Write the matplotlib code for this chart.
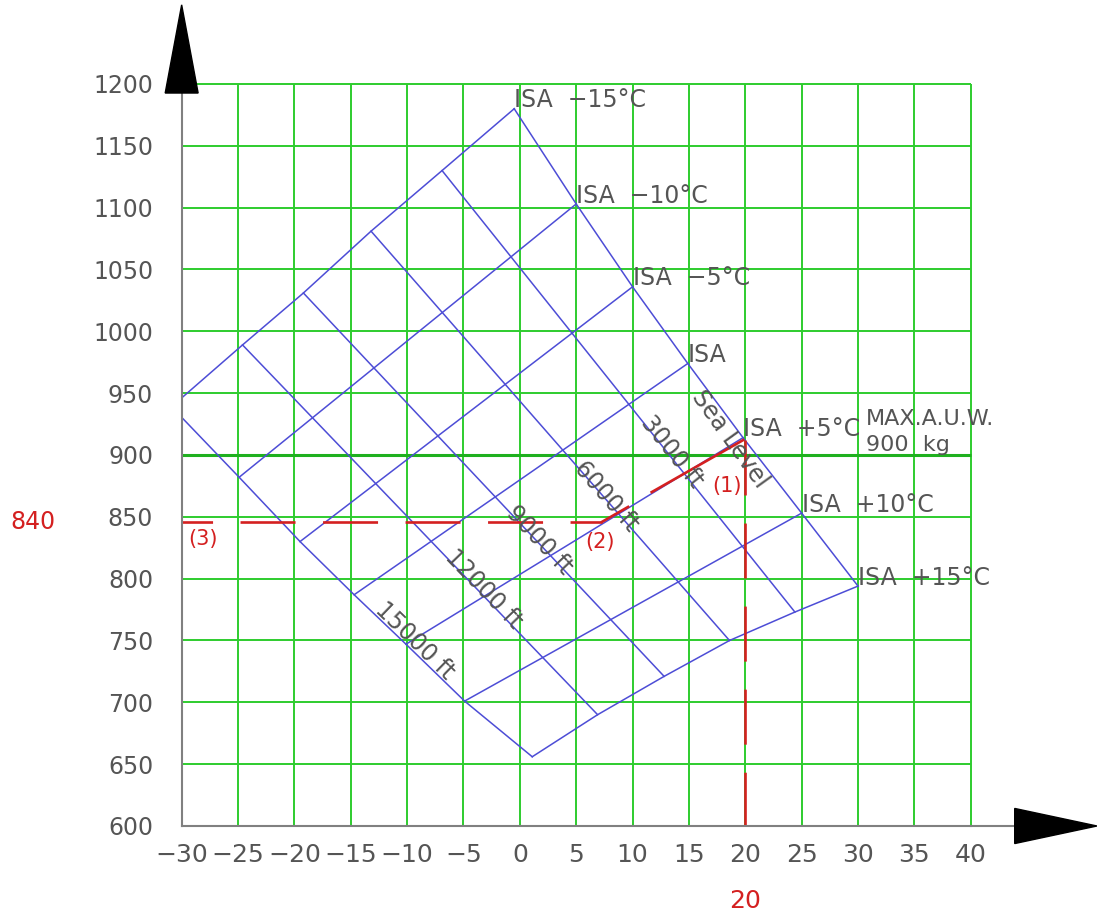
import matplotlib
matplotlib.use("Agg")
import matplotlib.pyplot as plt
import numpy as np
from matplotlib.patches import Polygon

plt.rcParams['font.family'] = ['DejaVu Sans']
plt.rcParams['lines.scale_dashes'] = False

# ---------------- data ----------------
x_ticks = [-30, -25, -20, -15, -10, -5, 0, 5, 10, 15, 20, 25, 30, 35, 40]
x_tick_labels = ['−30', '−25', '−20', '−15', '−10', '−5', '0', '5', '10',
                 '15', '20', '25', '30', '35', '40']
y_ticks = [600, 650, 700, 750, 800, 850, 900, 950, 1000, 1050, 1100, 1150, 1200]
y_tick_labels = [str(v) for v in y_ticks]

max_auw = 900

# ISA temperature lines: node on Sea Level edge and node on 15000 ft edge
isa_labels = ['ISA  −15°C', 'ISA  −10°C', 'ISA  −5°C', 'ISA',
              'ISA  +5°C', 'ISA  +10°C', 'ISA  +15°C']
sea_level_x = [-0.5, 5.0, 10.0, 14.9, 19.8, 25.0, 30.0]
sea_level_y = [1180, 1103, 1036, 974, 914, 853, 794]
ft15000_x = [-30.9, -24.9, -19.5, -14.7, -10.1, -4.9, 1.1]
ft15000_y = [939, 882, 830, 787, 747, 701, 656]

# altitude lines: node on ISA-15 edge and node on ISA+15 edge
alt_labels = ['Sea Level', '3000 ft', '6000 ft', '9000 ft', '12000 ft', '15000 ft']
isa_m15_x = [-0.5, -6.9, -13.2, -19.2, -24.6, -30.9]
isa_m15_y = [1180, 1130, 1081, 1031, 989, 939]
isa_p15_x = [30.0, 24.4, 18.6, 12.8, 6.9, 1.1]
isa_p15_y = [794, 773, 750, 721, 690, 656]
alt_label_x = [18.65, 13.46, 7.69, 1.70, -3.22, -9.30]
alt_label_y = [912.5, 902.4, 866.9, 830.9, 791.3, 749.6]

# worked example (red)
oat = 20
oat_top = 912
step1_x = [19.8, 11.7]
step1_y = [912, 870]
step2_x = [9.6, 7.3]
step2_y = [858, 846]
result_y = 846
result_label = '840'

# ---------------- style ----------------
GREEN = '#2ecc2e'
BLUE = '#4d4dd6'
RED = '#d42020'
GREY = '#555555'
AXC = '#808080'

fig = plt.figure(figsize=(10.97, 9.19), dpi=100)
ax = fig.add_axes([0.1656, 0.1012, 0.7193, 0.8074])
ax.set_xlim(-30, 40)
ax.set_ylim(600, 1200)

# grid
ax.vlines(x_ticks[1:], 600, 1200, colors=GREEN, lw=1.4, clip_on=False, zorder=1)
ax.hlines([v for v in y_ticks[1:] if v != max_auw], -30, 40, colors=GREEN, lw=1.4,
          clip_on=False, zorder=1)
ax.hlines([max_auw], -30, 40, colors='#1fb01f', lw=2.2, clip_on=False, zorder=1)

# chart outline (edges as polylines through the read nodes)
ax.plot(sea_level_x, sea_level_y, color=BLUE, lw=1.1, zorder=2)
ax.plot(ft15000_x, ft15000_y, color=BLUE, lw=1.1, zorder=2)
ax.plot(isa_m15_x, isa_m15_y, color=BLUE, lw=1.1, zorder=2)
ax.plot(isa_p15_x, isa_p15_y, color=BLUE, lw=1.1, zorder=2)

# inner ISA lines + labels
for i in range(len(isa_labels)):
    if 0 < i < len(isa_labels) - 1:
        ax.plot([ft15000_x[i], sea_level_x[i]], [ft15000_y[i], sea_level_y[i]],
                color=BLUE, lw=1.1, zorder=2)
    ax.annotate(isa_labels[i], (sea_level_x[i], sea_level_y[i]), xytext=(0, 1),
                textcoords='offset points', ha='left', va='baseline',
                fontsize=17, color=GREY, zorder=5, annotation_clip=False)

# inner altitude lines + labels
for j in range(len(alt_labels)):
    if 0 < j < len(alt_labels) - 1:
        ax.plot([isa_m15_x[j], isa_p15_x[j]], [isa_m15_y[j], isa_p15_y[j]],
                color=BLUE, lw=1.1, zorder=2)
    ang = np.degrees(np.arctan2(isa_p15_y[j] - isa_m15_y[j],
                                isa_p15_x[j] - isa_m15_x[j]))
    ax.text(alt_label_x[j], alt_label_y[j], alt_labels[j], rotation=ang,
            transform_rotates_text=True, rotation_mode='anchor',
            ha='center', va='center', fontsize=17, color=GREY, zorder=5)

# MAX AUW label
ax.text(30.7, 929.5, 'MAX.A.U.W.', fontsize=16, color=GREY, ha='left',
        va='center', clip_on=False, zorder=5)
ax.text(30.7, 907.7, '900  kg', fontsize=16, color=GREY, ha='left',
        va='center', clip_on=False, zorder=5)

# red worked example
ax.plot([oat, oat], [oat_top, 600], color=RED, lw=1.9, dashes=(39.6, 20.2), zorder=4)
ax.plot(step1_x, step1_y, color=RED, lw=1.9, zorder=4)
ax.plot(step2_x, step2_y, color=RED, lw=1.9, zorder=4)
ax.plot([step2_x[-1], -34], [result_y, result_y], color=RED, lw=1.9,
        linestyle=(16.6, (39.6, 19.8)), zorder=4)
ax.text(18.4, 875, '(1)', color=RED, fontsize=15, ha='center', va='center', zorder=5)
ax.text(7.1, 830, '(2)', color=RED, fontsize=15, ha='center', va='center', zorder=5)
ax.text(-28.1, 831.7, '(3)', color=RED, fontsize=15, ha='center', va='center', zorder=5)
ax.text(-43.2, result_y, result_label, color=RED, fontsize=17, ha='center',
        va='center', clip_on=False)
ax.text(oat, 539.5, str(oat), color=RED, fontsize=18, ha='center', va='center',
        clip_on=False)

# axes
for s in ['top', 'right']:
    ax.spines[s].set_visible(False)
for s in ['left', 'bottom']:
    ax.spines[s].set_color(AXC)
    ax.spines[s].set_linewidth(1.5)
    ax.spines[s].set_zorder(6)
ax.plot([40, 44], [600, 600], color=AXC, lw=1.5, clip_on=False, zorder=6)
ax.add_patch(Polygon([[-31.46, 1192.7], [-28.54, 1192.7], [-30, 1264]],
                     closed=True, color='black', clip_on=False, zorder=7))
ax.add_patch(Polygon([[43.9, 614.2], [43.9, 585.8], [51.2, 600]],
                     closed=True, color='black', clip_on=False, zorder=7))

ax.set_xticks(x_ticks)
ax.set_xticklabels(x_tick_labels)
ax.set_yticks(y_ticks)
ax.set_yticklabels(y_tick_labels)
ax.tick_params(axis='both', length=0, colors=GREY)
ax.tick_params(axis='x', pad=12.5, labelsize=18)
ax.tick_params(axis='y', pad=20.5, labelsize=17)

fig.savefig('out.png', dpi=100)
